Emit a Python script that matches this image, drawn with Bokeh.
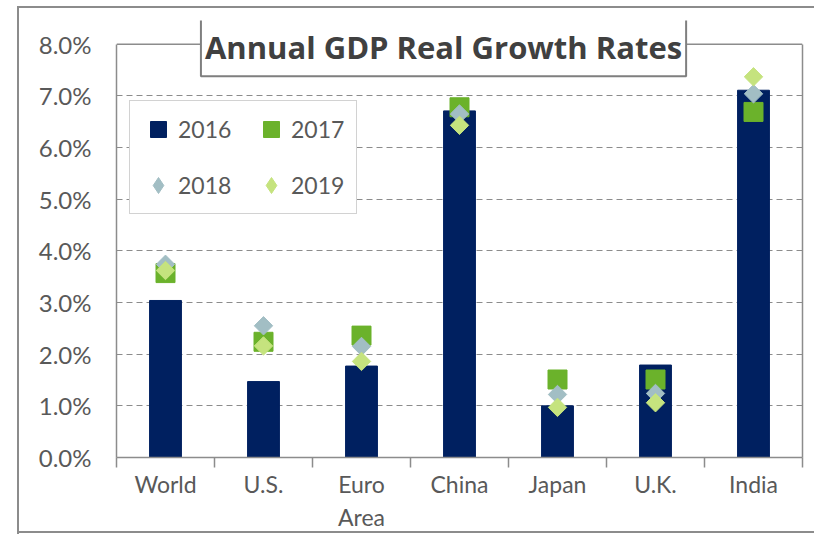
from bokeh.plotting import figure
from bokeh.models import (ColumnDataSource, FixedTicker, PrintfTickFormatter, Legend,
                          LegendItem, Label, Range1d, Span, LinearAxis)
from bokeh.embed import file_html
from bokeh.resources import INLINE

countries = ["World", "U.S.", "Euro\nArea", "China", "Japan", "U.K.", "India"]
g2016 = [3.04, 1.47, 1.77, 6.71, 1.00, 1.79, 7.11]
g2017 = [3.57, 2.24, 2.36, 6.78, 1.51, 1.51, 6.69]
g2018 = [3.74, 2.55, 2.15, 6.65, 1.22, 1.24, 7.04]
g2019 = [3.62, 2.16, 1.86, 6.43, 0.97, 1.06, 7.37]
y_ticks = [0, 1, 2, 3, 4, 5, 6, 7, 8]
title_text = "Annual GDP Real Growth Rates"

xs = [i + 0.5 for i in range(len(countries))]
src = ColumnDataSource(dict(x=xs, g2016=g2016, g2017=g2017, g2018=g2018, g2019=g2019))

NAVY = "#002060"
GREEN = "#6BB22B"
GRAYBLUE = "#A2BEC4"
LIGHTGREEN = "#C5E37E"
GRID = "#8C8C8C"
TXT = "#595959"
FONT = "Lato"

W, H = 814, 534
y_top = y_ticks[-1] + 0.46   # head-room above the 8% frame line for the title box
line = "linear-gradient(#8C8C8C, #8C8C8C)"
outer_border = (f"{line} 17px 6px / 2px 528px no-repeat, "
                f"{line} 17px 6px / 800px 2px no-repeat, "
                f"{line} 17px 531px / 800px 2px no-repeat")

p = figure(width=W, height=H, output_backend="svg", toolbar_location=None,
           x_range=Range1d(0, len(countries)), y_range=Range1d(y_ticks[0], y_top),
           min_border_left=116, min_border_right=12, min_border_top=20, min_border_bottom=73,
           styles={"background": outer_border})
p.background_fill_color = "white"
p.border_fill_alpha = 0
p.outline_line_color = None

bars = p.vbar(x="x", top="g2016", width=0.325, source=src, fill_color=NAVY, line_color=NAVY)
r17 = p.scatter(x="x", y="g2017", source=src, marker="square", size=19,
                fill_color=GREEN, line_color=GREEN)
r18 = p.scatter(x="x", y="g2018", source=src, marker="square", size=13, angle=0.785398,
                fill_color=GRAYBLUE, line_color=GRAYBLUE)
r19 = p.scatter(x="x", y="g2019", source=src, marker="square", size=13, angle=0.785398,
                fill_color=LIGHTGREEN, line_color=LIGHTGREEN)

# legend-only renderers (not drawn) giving the legend its square / diamond swatches
leg16 = p.scatter(x="x", y="g2016", source=src, marker="square", size=19,
                  fill_color=NAVY, line_color=NAVY, visible=False)
leg18 = p.scatter(x="x", y="g2018", source=src, marker="diamond", size=19,
                  fill_color=GRAYBLUE, line_color=GRAYBLUE, visible=False)
leg19 = p.scatter(x="x", y="g2019", source=src, marker="diamond", size=19,
                  fill_color=LIGHTGREEN, line_color=LIGHTGREEN, visible=False)

# x axis
xa = p.xaxis[0]
xa.ticker = FixedTicker(ticks=xs, minor_ticks=list(range(len(countries) + 1)))
xa.major_label_overrides = {x: c for x, c in zip(xs, countries)}
xa.major_tick_line_color = None
xa.minor_tick_line_color = GRID
xa.minor_tick_line_width = 1.5
xa.minor_tick_in = 0
xa.minor_tick_out = 10
xa.axis_line_color = GRID
xa.axis_line_width = 1.5
xa.major_label_text_font = FONT
xa.major_label_text_font_size = "23px"
xa.major_label_text_color = TXT
xa.major_label_standoff = 2

# y axis
ya = p.yaxis[0]
ya.ticker = FixedTicker(ticks=y_ticks)
ya.formatter = PrintfTickFormatter(format="%.1f%%")
ya.bounds = (y_ticks[0], y_ticks[-1])
ya.major_tick_line_color = None
ya.minor_tick_line_color = None
ya.axis_line_color = GRID
ya.axis_line_width = 1.5
ya.major_label_text_font = FONT
ya.major_label_text_font_size = "24px"
ya.major_label_text_color = TXT
ya.major_label_standoff = 19

# right edge of the plot area (frame border), limited to the 0-8% span
ra = LinearAxis(bounds=(y_ticks[0], y_ticks[-1]), ticker=FixedTicker(ticks=[]),
                major_tick_line_color=None, minor_tick_line_color=None,
                major_label_text_font_size="0px", axis_line_color=GRID, axis_line_width=1.5)
p.add_layout(ra, "right")

p.xgrid.grid_line_color = None
p.ygrid.ticker = FixedTicker(ticks=y_ticks[:-1])
p.ygrid.grid_line_color = GRID
p.ygrid.grid_line_dash = "6 4"
p.ygrid.grid_line_width = 1

top_line = Span(location=y_ticks[-1], dimension="width", line_color=GRID, line_width=1.5)
p.add_layout(top_line)

legend = Legend(items=[LegendItem(label="2016", renderers=[leg16]),
                       LegendItem(label="2018", renderers=[leg18]),
                       LegendItem(label="2017", renderers=[r17]),
                       LegendItem(label="2019", renderers=[leg19])],
                ncols=2, location=(13, 243), glyph_width=40, glyph_height=40,
                label_standoff=0, label_width=57, spacing=16, padding=8, margin=0,
                border_line_color="#A6A6A6", border_line_width=1.5,
                background_fill_color="white", background_fill_alpha=1,
                label_text_font=FONT, label_text_font_size="23px", label_text_color=TXT)
p.add_layout(legend)

title = Label(x=3.337, y=7.943, text=title_text, text_align="center", text_baseline="middle",
              text_font="Open Sans", text_font_style="bold", text_font_size="31px",
              text_color="#404040", background_fill_color="white",
              border_line_color="#7F7F7F", border_line_width=2, padding=(4, 8))
p.add_layout(title)

open("out.html", "w").write(file_html(p, INLINE))
